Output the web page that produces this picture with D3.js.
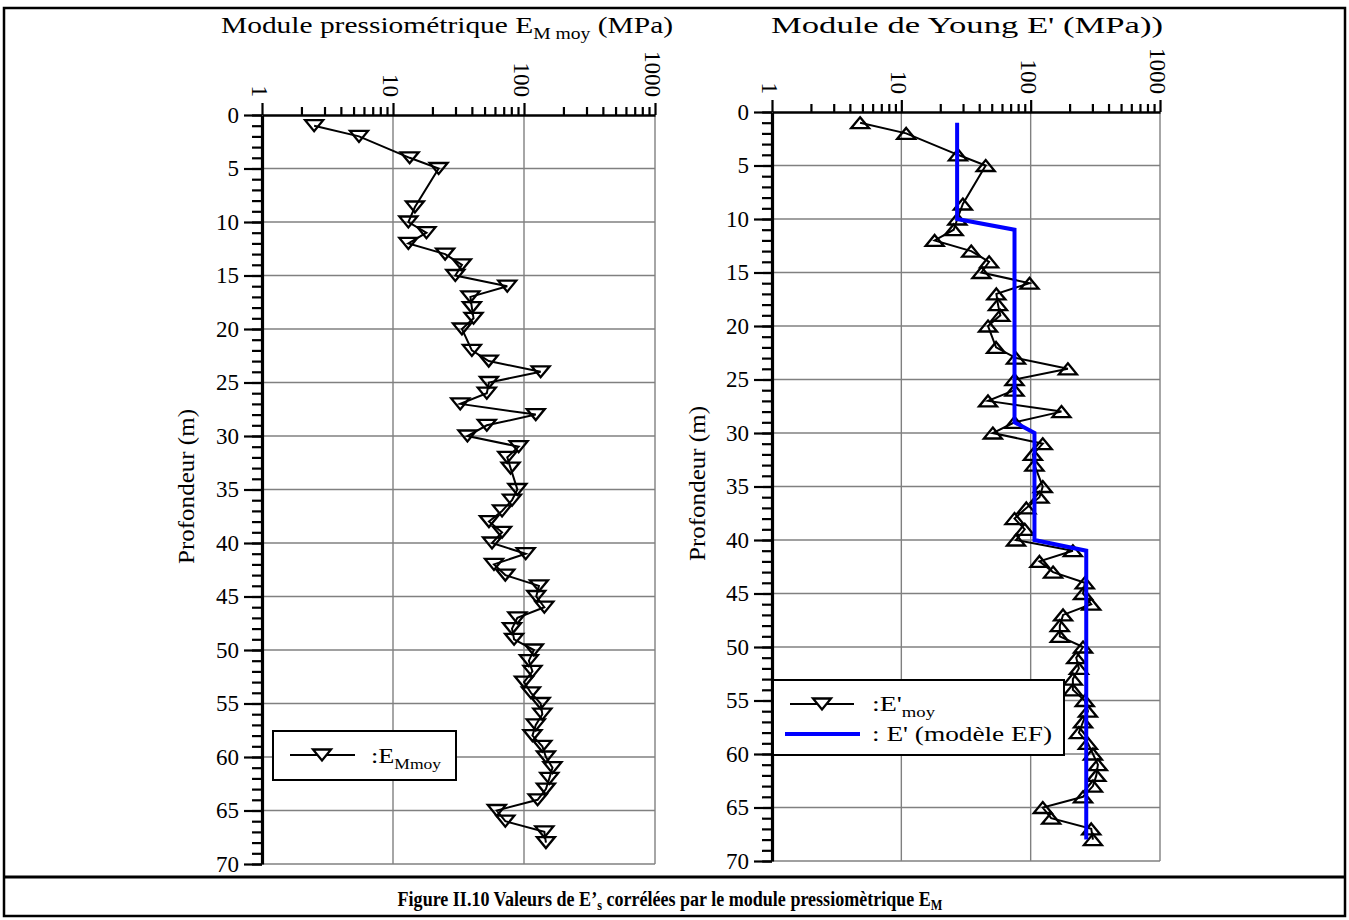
<!DOCTYPE html>
<html>
<head>
<meta charset="utf-8">
<script src="https://cdn.jsdelivr.net/npm/d3@7"></script>
<style>
  body { margin: 0; background: #fff; }
  text { font-family: "Liberation Serif", "Times New Roman", serif; fill: #000; }
</style>
</head>
<body>
<script>
// depth of each test (m)
const depths = [1, 2, 4, 5, 8.6, 10, 11, 12, 13, 14, 15, 16, 17, 18, 19, 20,
  22, 23, 24, 25, 26, 27, 28, 29, 30, 31, 32, 33, 35, 36, 37, 38, 39, 40,
  41, 42, 43, 44, 45, 46, 47, 48, 49, 50, 51, 52, 53, 54, 55, 56, 57, 58,
  59, 60, 61, 62, 63, 64, 65, 66, 67, 68];

// pressuremeter modulus E_M moy (MPa)
const emMoy = [2.5, 5.5, 13.4, 22.3, 14.7, 13.1, 18, 13.1, 25, 33.6, 29.9, 74.5, 39, 40, 41.2, 33.6,
  40, 53.8, 134, 54, 52, 32.6, 123, 52, 37, 91, 74.5, 79, 89, 81, 68, 54, 68, 57,
  103, 59, 72, 130, 124, 143, 89, 81, 84, 119, 109, 116, 100, 113, 134, 138, 123, 116,
  138, 147, 165, 156, 147, 127, 62, 72, 143, 147];

// Young modulus E' moy (MPa)
const eMoy = [4.8, 10.9, 27.4, 44.9, 29.9, 27.1, 25.4, 18.1, 34.7, 47.7, 41.6, 98, 54.3, 55.9, 58.3, 46.8,
  54, 77, 194, 75, 75, 46.8, 173, 75, 51, 124, 104, 107, 124, 117, 92.6, 75, 90, 77,
  212, 117, 149, 262, 254, 294, 178, 168, 168, 254, 225, 236, 212, 212, 262, 277, 254, 236,
  277, 303, 331, 322, 303, 254, 124, 144, 294, 303];

// E' used in the finite element model (step profile)
const modelDepths = [1, 10, 11, 29, 30, 40, 41, 68];
const modelE = [27, 27, 75, 75, 107, 107, 269, 269];

const decadeTicks = [1, 10, 100, 1000];
const minorTicks = [1, 10, 100].flatMap(d => d3.range(2, 10).map(k => k * d));
const depthTicks = d3.range(0, 75, 5);
const depthMinor = d3.range(0, 71, 1);

const W = 1349, H = 920;
const svg = d3.select("body").append("svg").attr("width", W).attr("height", H);

// outer frame + caption separator
svg.append("rect").attr("x", 4).attr("y", 8).attr("width", 1341).attr("height", 908)
  .attr("fill", "none").attr("stroke", "#000").attr("stroke-width", 2.5);
svg.append("line").attr("x1", 4).attr("x2", 1345).attr("y1", 877).attr("y2", 877)
  .attr("stroke", "#000").attr("stroke-width", 3);

const triUp = "M0,-5.5L9,5.5L-9,5.5Z";
const triDown = "M-9,-5.5L9,-5.5L0,5.5Z";

function drawPanel(p) {
  const g = svg.append("g");
  const x = d3.scaleLog().domain([1, 1000]).range([p.left, p.right]);
  const y = d3.scaleLinear().domain([0, 70]).range([p.top, p.bottom]);

  // grid
  g.append("g").selectAll("line").data([10, 100, 1000]).join("line")
    .attr("x1", d => x(d)).attr("x2", d => x(d))
    .attr("y1", p.top).attr("y2", p.bottom)
    .attr("stroke", "#808080").attr("stroke-width", 1.4);
  g.append("g").selectAll("line").data(depthTicks.slice(1)).join("line")
    .attr("x1", p.left).attr("x2", p.right)
    .attr("y1", d => y(d)).attr("y2", d => y(d))
    .attr("stroke", "#808080").attr("stroke-width", 1.4);

  // top log axis
  const minorX = g.append("g").attr("transform", `translate(0,${p.top})`)
    .call(d3.axisTop(x).tickValues(minorTicks).tickSize(8).tickSizeOuter(0).tickFormat(""));
  const majorX = g.append("g").attr("transform", `translate(0,${p.top})`)
    .call(d3.axisTop(x).tickValues(decadeTicks).tickSize(12).tickSizeOuter(0).tickFormat(d3.format("d")));
  majorX.selectAll("text")
    .attr("transform", "rotate(90)")
    .attr("x", -18).attr("y", 0).attr("dy", "0.45em")
    .attr("text-anchor", "end");

  // left depth axis
  const minorY = g.append("g").attr("transform", `translate(${p.left},0)`)
    .call(d3.axisLeft(y).tickValues(depthMinor).tickSize(10).tickSizeOuter(0).tickFormat(""));
  const majorY = g.append("g").attr("transform", `translate(${p.left},0)`)
    .call(d3.axisLeft(y).tickValues(depthTicks).tickSize(18).tickSizeOuter(0).tickPadding(5));

  [minorX, majorX, minorY, majorY].forEach(a => {
    a.attr("font-family", null).attr("font-size", null);
    a.selectAll(".tick line").attr("stroke", "#000").attr("stroke-width", 2.2);
    a.selectAll("text").style("font-size", "23px");
  });
  majorX.select(".domain").attr("stroke-width", 2.5);
  majorY.select(".domain").attr("stroke-width", 3.2);
  minorX.select(".domain").remove();
  minorY.select(".domain").remove();

  // series
  const pts = depths.map((d, i) => ({ d: d, v: p.values[i] }));
  const line = d3.line().x(q => x(q.v)).y(q => y(q.d));
  g.append("path").datum(pts).attr("d", line)
    .attr("fill", "none").attr("stroke", "#000").attr("stroke-width", 2);
  g.append("g").selectAll("path").data(pts).join("path")
    .attr("transform", q => `translate(${x(q.v)},${y(q.d)})`)
    .attr("d", p.marker)
    .attr("fill", "none").attr("stroke", "#000").attr("stroke-width", 2.3);

  if (p.model) {
    const mpts = modelDepths.map((d, i) => ({ d: d, v: modelE[i] }));
    g.append("path").datum(mpts).attr("d", line)
      .attr("fill", "none").attr("stroke", "#0000ff").attr("stroke-width", 4);
  }

  // axis titles
  const t = g.append("text").attr("x", p.titleX).attr("y", 33)
    .attr("text-anchor", "middle").style("font-size", "24px")
    .attr("textLength", p.titleLen).attr("lengthAdjust", "spacingAndGlyphs");
  p.title.forEach(part => {
    const s = t.append("tspan").text(part.t);
    if (part.sub) s.attr("dy", 6).style("font-size", "16px");
    if (part.back) s.attr("dy", -6);
  });

  g.append("text")
    .attr("transform", `translate(${p.ylabX},${(p.top + p.bottom) / 2 - 3}) rotate(-90)`)
    .attr("text-anchor", "middle").style("font-size", "23px")
    .attr("textLength", 155).attr("lengthAdjust", "spacingAndGlyphs")
    .text("Profondeur (m)");

  return { g, x, y };
}

// left panel: pressuremeter modulus
const left = drawPanel({
  left: 262, right: 655, top: 115, bottom: 864,
  values: emMoy, marker: triDown, model: false,
  titleX: 447, titleLen: 452, ylabX: 194,
  title: [{ t: "Module pressiométrique E" }, { t: "M moy", sub: true }, { t: " (MPa)", back: true }]
});

// right panel: Young modulus
const right = drawPanel({
  left: 772, right: 1160, top: 112, bottom: 861,
  values: eMoy, marker: triUp, model: true,
  titleX: 967, titleLen: 392, ylabX: 705,
  title: [{ t: "Module de Young E' (MPa))" }]
});

// legends
function legendText(g, x, y, main, sub, len) {
  const t = g.append("text").attr("x", x).attr("y", y).style("font-size", "21px")
    .attr("textLength", len).attr("lengthAdjust", "spacingAndGlyphs");
  t.append("tspan").text(main);
  if (sub) t.append("tspan").attr("dy", 6).style("font-size", "14px").text(sub);
}

const lg1 = svg.append("g");
lg1.append("rect").attr("x", 273).attr("y", 731).attr("width", 183).attr("height", 49)
  .attr("fill", "#fff").attr("stroke", "#000").attr("stroke-width", 2);
lg1.append("line").attr("x1", 290).attr("x2", 355).attr("y1", 755).attr("y2", 755)
  .attr("stroke", "#000").attr("stroke-width", 2);
lg1.append("path").attr("transform", "translate(322,755)").attr("d", triDown)
  .attr("fill", "#fff").attr("stroke", "#000").attr("stroke-width", 2.3);
legendText(lg1, 371, 763, ":E", "Mmoy", 70);

const lg2 = svg.append("g");
lg2.append("rect").attr("x", 773).attr("y", 680).attr("width", 291).attr("height", 75)
  .attr("fill", "#fff").attr("stroke", "#000").attr("stroke-width", 2);
lg2.append("line").attr("x1", 790).attr("x2", 854).attr("y1", 704).attr("y2", 704)
  .attr("stroke", "#000").attr("stroke-width", 2);
lg2.append("path").attr("transform", "translate(822,704)").attr("d", triDown)
  .attr("fill", "#fff").attr("stroke", "#000").attr("stroke-width", 2.3);
legendText(lg2, 872, 711, ":E'", "moy", 63);
lg2.append("line").attr("x1", 785).attr("x2", 860).attr("y1", 734).attr("y2", 734)
  .attr("stroke", "#0000ff").attr("stroke-width", 4);
legendText(lg2, 872, 741, ": E' (modèle EF)", null, 180);

// caption (condensed bold serif, squeezed horizontally)
const cap = svg.append("g").attr("transform", "translate(670,906) scale(0.82,1)")
  .append("text").attr("x", 0).attr("y", 0).attr("text-anchor", "middle")
  .style("font-weight", "bold").style("font-size", "22px");
cap.append("tspan").text("Figure II.10 Valeurs de E’");
cap.append("tspan").attr("dy", 4).style("font-size", "15px").text("s");
cap.append("tspan").attr("dy", -4).text(" corrélées par le module pressiomètrique E");
cap.append("tspan").attr("dy", 4).style("font-size", "15px").text("M");
</script>
</body>
</html>
